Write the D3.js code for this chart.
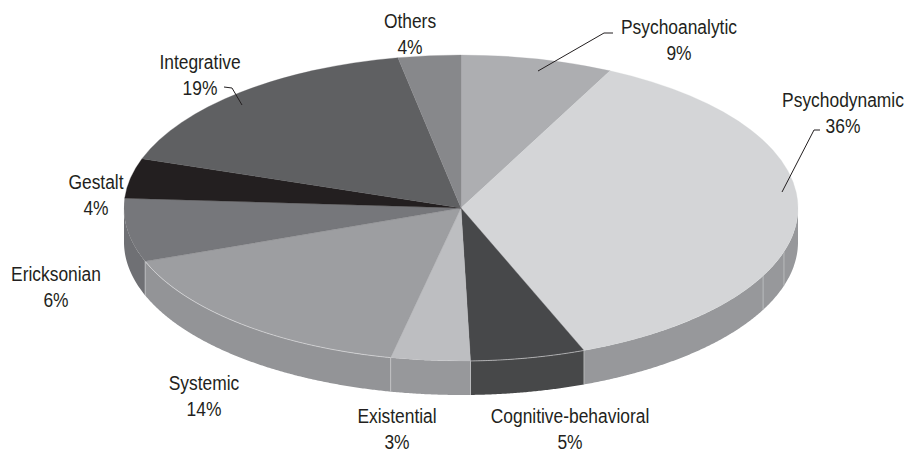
<!DOCTYPE html>
<html>
<head>
<meta charset="utf-8">
<script src="https://cdn.jsdelivr.net/npm/d3@7"></script>
<style>
  html, body { margin: 0; padding: 0; background: #fff; }
  svg { display: block; }
  text { font-family: "Liberation Sans", Arial, sans-serif; font-size: 20px; fill: #231f20; }
</style>
</head>
<body>
<svg></svg>
<script>
const width = 908
const height = 450

const categories = ['Psychoanalytic', 'Psychodynamic', 'Cognitive-behavioral', 'Existential', 'Systemic', 'Ericksonian', 'Gestalt', 'Integrative', 'Others']
// percentages printed on the labels
const printedPercent = [9, 36, 5, 3, 14, 6, 4, 19, 4]
// the slices as they are actually drawn in the picture, they differ a bit from the labels
const drawnShare = [7.3, 36.8, 5.5, 3.8, 16, 6.7, 4.2, 16.8, 3]
const topColors = ['#adaeb1', '#d4d5d7', '#47484a', '#bdbec1', '#9d9ea1', '#76777b', '#231f20', '#5f6062', '#87888b']
const wallColors = ['#adaeb1', '#97989b', '#474849', '#97989b', '#939497', '#6f7074', '#231f20', '#5f6062', '#87888b']

// label centre and first baseline
const labelPos = [[679, 34], [843, 107], [570, 423], [397, 423], [204, 390], [56, 281], [96, 189], [200, 69], [410, 28]]
const leaders = [
  [[538, 71], [604, 33], [613, 33]],
  [[782, 192], [814, 130], [820, 130]],
  [[242, 105], [232, 88], [224, 87]]
]

const cx = 461
const cy = 208
const rx = 337
const ry = 153
const depth = 34
// the type in the picture is a narrow Helvetica
const textSqueeze = 0.87

const svg = d3.select('svg').attr('width', width).attr('height', height)

const pie = d3.pie().sort(null).value(d => d)
const arcs = pie(drawnShare)

const x = a => cx + rx * Math.sin(a)
const y = a => cy - ry * Math.cos(a)

// side walls, only the front half of the ellipse is visible
const wallArea = d3.area().x(a => x(a)).y0(a => y(a)).y1(a => y(a) + depth)
const walls = svg.append('g')
arcs.forEach((d, i) => {
  const a0 = Math.max(d.startAngle, Math.PI / 2)
  const a1 = Math.min(d.endAngle, Math.PI * 1.5)
  if (a1 <= a0) return
  walls.append('path')
    .attr('d', wallArea(d3.range(a0, a1, 0.005).concat(a1)))
    .attr('fill', wallColors[i])
})

// light seams in the wall, at slice edges and two more on the long wall
const seamAngles = arcs.map(d => d.endAngle)
  .filter(a => a > Math.PI / 2 && a < Math.PI * 1.5)
  .concat([116.3, 106.6].map(deg => deg * Math.PI / 180))
walls.selectAll('line')
  .data(seamAngles)
  .enter().append('line')
  .attr('x1', a => x(a))
  .attr('x2', a => x(a))
  .attr('y1', a => y(a))
  .attr('y2', a => y(a) + depth)
  .attr('stroke', '#c9cacc')
  .attr('stroke-width', 0.7)

// top face
const arc = d3.arc().innerRadius(0).outerRadius(rx)
svg.append('g')
  .attr('transform', `translate(${cx},${cy}) scale(1,${ry / rx})`)
  .selectAll('path')
  .data(arcs)
  .enter().append('path')
  .attr('d', arc)
  .attr('fill', (d, i) => topColors[i])
  .attr('stroke', (d, i) => topColors[i])
  .attr('stroke-width', 0.3)
  .attr('vector-effect', 'non-scaling-stroke')

// thin light rim between top and wall on the dark slices and the systemic one
const rim = d3.line().x(a => x(a)).y(a => y(a))
svg.append('g')
  .selectAll('path')
  .data(arcs.filter((d, i) => [2, 4].includes(i)))
  .enter().append('path')
  .attr('d', d => rim(d3.range(d.startAngle, d.endAngle, 0.005).concat(d.endAngle)))
  .attr('fill', 'none')
  .attr('stroke', '#e4e4e6')
  .attr('stroke-width', 0.6)

// leader lines
const line = d3.line()
svg.append('g')
  .selectAll('path')
  .data(leaders)
  .enter().append('path')
  .attr('d', line)
  .attr('fill', 'none')
  .attr('stroke', '#231f20')
  .attr('stroke-width', 1)

// labels
const labels = svg.append('g')
  .selectAll('text')
  .data(categories)
  .enter().append('text')
  .attr('text-anchor', 'middle')
  .attr('transform', (d, i) => `translate(${labelPos[i][0]},${labelPos[i][1]}) scale(${textSqueeze},1)`)

labels.append('tspan').text(d => d)
labels.append('tspan')
  .attr('x', 0)
  .attr('dy', 26)
  .text((d, i) => printedPercent[i] + '%')
</script>
</body>
</html>
